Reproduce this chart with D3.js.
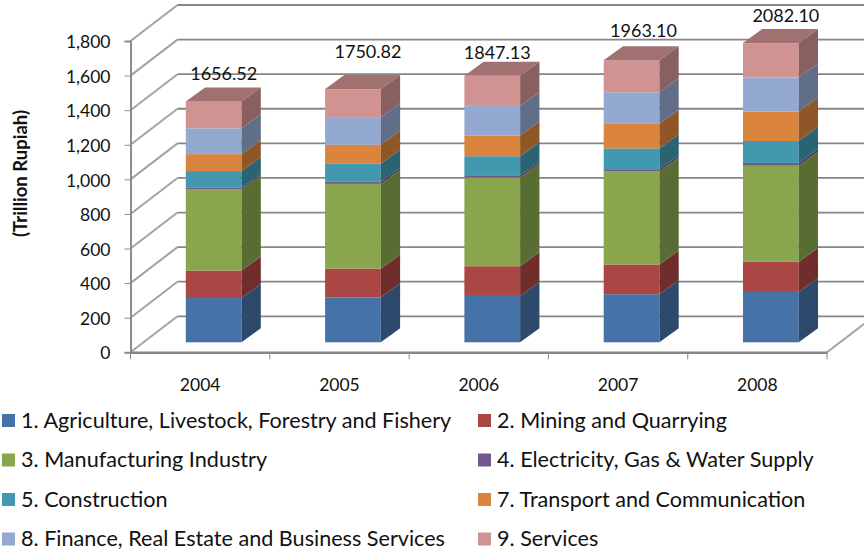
<!DOCTYPE html>
<html lang="en">
<head>
    <meta charset="UTF-8">
    <title>GDP by sector</title>
    <script src="https://d3js.org/d3.v7.min.js"></script>
    <style>
        body { margin: 0; background: #fff; }
        svg { display: block; }
        text { font-family: Lato, "Open Sans", sans-serif; fill: #111; }
    </style>
</head>
<body>
    <div id="graph-div"></div>
    <script>
        const years = ['2004', '2005', '2006', '2007', '2008'];
        const sectors = [
            '1. Agriculture, Livestock, Forestry and Fishery',
            '2. Mining and Quarrying',
            '3. Manufacturing Industry',
            '4. Electricity, Gas & Water Supply',
            '5. Construction',
            '7. Transport and Communication',
            '8. Finance, Real Estate and Business Services',
            '9. Services'
        ];
        const colors = ['#4572a7', '#aa4643', '#89a54e', '#71588f', '#4198af', '#db843d', '#93a9cf', '#d19392'];

        // one list per sector
        const agriculture = [256, 260, 268, 278, 291];
        const mining = [159, 166, 172, 172, 174];
        const manufacturing = [469, 490, 513, 538, 556];
        const electricity = [9, 12, 13, 13, 16];
        const construction = [97, 104, 110, 120, 127];
        const transport = [98, 110, 120, 142, 170];
        const finance = [149, 160, 171, 183, 197];
        const services = [156, 162, 174, 185, 199];
        const series = [agriculture, mining, manufacturing, electricity, construction, transport, finance, services];

        // text boxes above the bars, these are not the bar heights
        const totals = ['1656.52', '1750.82', '1847.13', '1963.10', '2082.10'];
        const yTicks = [0, 200, 400, 600, 800, 1000, 1200, 1400, 1600, 1800];

        const w = 864;
        const h = 551;
        const wallX = 47;   // depth of the 3d box
        const wallY = 36;
        const barOffX = 13.5; // front of bar, from front of floor
        const barOffY = 10;
        const barX = 19.3;  // depth of a bar
        const barY = 14;

        const svg = d3.select('#graph-div').append('svg')
            .attr('width', w)
            .attr('height', h);

        //scale
        const xScale = d3.scaleBand()
            .domain(years)
            .range([130.5, 827])
            .paddingInner(0.6)
            .paddingOuter(0.3);
        const yScale = d3.scaleLinear()
            .domain([0, 1800])
            .range([352.3, 41]);

        //walls
        const grid = svg.append('g').attr('fill', 'none');
        grid.selectAll('.back')
            .data(yTicks)
            .enter().append('line')
            .attr('class', 'back')
            .attr('x1', 130.5 + wallX)
            .attr('x2', w)
            .attr('y1', d => yScale(d) - wallY)
            .attr('y2', d => yScale(d) - wallY)
            .attr('stroke', '#868686')
            .attr('stroke-width', 1.8);
        grid.selectAll('.side')
            .data(yTicks)
            .enter().append('line')
            .attr('class', 'side')
            .attr('x1', 130.5)
            .attr('x2', 130.5 + wallX)
            .attr('y1', d => yScale(d))
            .attr('y2', d => yScale(d) - wallY)
            .attr('stroke', '#a3a3a3')
            .attr('stroke-width', 2);
        grid.append('line')
            .attr('x1', 827)
            .attr('x2', 827 + wallX)
            .attr('y1', yScale(0))
            .attr('y2', yScale(0) - wallY)
            .attr('stroke', '#a3a3a3')
            .attr('stroke-width', 2);

        //bars
        const stacked = d3.stack()
            .keys(d3.range(series.length))
            .value((d, k) => series[k][d])(d3.range(years.length));

        const poly = pts => pts.map(p => p.join(',')).join(' ');

        const layers = svg.selectAll('.layer')
            .data(stacked)
            .enter().append('g')
            .attr('class', 'layer');

        layers.each(function (layer, k) {
            const g = d3.select(this);
            const c = colors[k];
            const cells = layer.map((d, i) => ({
                x0: xScale(years[i]) + barOffX,
                x1: xScale(years[i]) + barOffX + xScale.bandwidth(),
                y0: yScale(d[0]) - barOffY,
                y1: yScale(d[1]) - barOffY
            }));
            g.selectAll('.front')
                .data(cells)
                .enter().append('rect')
                .attr('class', 'front')
                .attr('x', d => d.x0)
                .attr('y', d => d.y1)
                .attr('width', d => d.x1 - d.x0)
                .attr('height', d => d.y0 - d.y1)
                .attr('fill', c);
            g.selectAll('.right')
                .data(cells)
                .enter().append('polygon')
                .attr('class', 'right')
                .attr('points', d => poly([[d.x1, d.y0], [d.x1, d.y1], [d.x1 + barX, d.y1 - barY], [d.x1 + barX, d.y0 - barY]]))
                .attr('fill', d3.color(c).darker(1.2));
            if (k === series.length - 1) {
                g.selectAll('.top')
                    .data(cells)
                    .enter().append('polygon')
                    .attr('class', 'top')
                    .attr('points', d => poly([[d.x0, d.y1], [d.x1, d.y1], [d.x1 + barX, d.y1 - barY], [d.x0 + barX, d.y1 - barY]]))
                    .attr('fill', d3.color(c).darker(0.73));
            }
        });

        //axes
        const yAxis = d3.axisLeft(yScale)
            .tickValues(yTicks)
            .tickFormat(d3.format(','))
            .tickSize(6)
            .tickPadding(14);
        const yG = svg.append('g')
            .attr('transform', 'translate(130.5, 0)')
            .style('font-size', '17.5px')
            .call(yAxis);
        yG.select('.domain').attr('stroke', '#8c8c8c').attr('stroke-width', 2);
        yG.selectAll('line').attr('stroke', '#8c8c8c');
        yG.selectAll('text').style('font-family', 'Lato').attr('fill', '#111').attr('dy', '0.38em');

        const xAxis = d3.axisBottom(xScale).tickSize(0).tickPadding(26);
        const xG = svg.append('g')
            .attr('transform', 'translate(0, ' + yScale(0) + ')')
            .style('font-size', '17.5px')
            .call(xAxis);
        xG.select('.domain').attr('stroke', '#868686').attr('stroke-width', 2.4);
        xG.selectAll('text').style('font-family', 'Lato').attr('fill', '#111');

        // ticks sit between the categories, so the band axis can't draw them
        const edges = [xScale.range()[0]].concat(years.map(y => xScale(y) + xScale.bandwidth() / 2 + xScale.step() / 2));
        svg.selectAll('.xtick')
            .data(edges)
            .enter().append('line')
            .attr('class', 'xtick')
            .attr('x1', d => d)
            .attr('x2', d => d)
            .attr('y1', yScale(0))
            .attr('y2', yScale(0) + 7)
            .attr('stroke', '#8c8c8c');

        svg.append('text')
            .text('(Trillion Rupiah)')
            .attr('transform', 'translate(21, 173.5) rotate(-90)')
            .attr('text-anchor', 'middle')
            .attr('dy', '0.35em')
            .style('font-size', '18.5px')
            .style('font-weight', 'bold');

        //total labels, hand placed in the original
        const labelNudge = [[10, 28], [15, 37], [5, 23], [12, 30], [15, 27]];
        const stackTop = stacked[stacked.length - 1];
        svg.selectAll('.total')
            .data(totals)
            .enter().append('text')
            .attr('class', 'total')
            .text(d => d)
            .attr('x', (d, i) => xScale(years[i]) + barOffX + xScale.bandwidth() / 2 + labelNudge[i][0])
            .attr('y', (d, i) => yScale(stackTop[i][1]) - barOffY - labelNudge[i][1])
            .attr('text-anchor', 'middle')
            .attr('dy', '0.35em')
            .style('font-size', '18px');

        //legend
        const legend = svg.append('g').attr('id', 'legend');
        const legendX = [2, 478];
        const legendY = [420, 459.5, 499, 538.5];
        const items = legend.selectAll('g')
            .data(sectors)
            .enter().append('g')
            .attr('transform', (d, i) => 'translate(' + legendX[i % 2] + ', ' + legendY[Math.floor(i / 2)] + ')');
        items.append('rect')
            .attr('x', 0)
            .attr('y', -6)
            .attr('width', 13)
            .attr('height', 13)
            .attr('fill', (d, i) => colors[i]);
        items.append('text')
            .text(d => d)
            .attr('x', 19)
            .attr('dy', '0.35em')
            .style('font-size', '21.6px');
    </script>
</body>
</html>
